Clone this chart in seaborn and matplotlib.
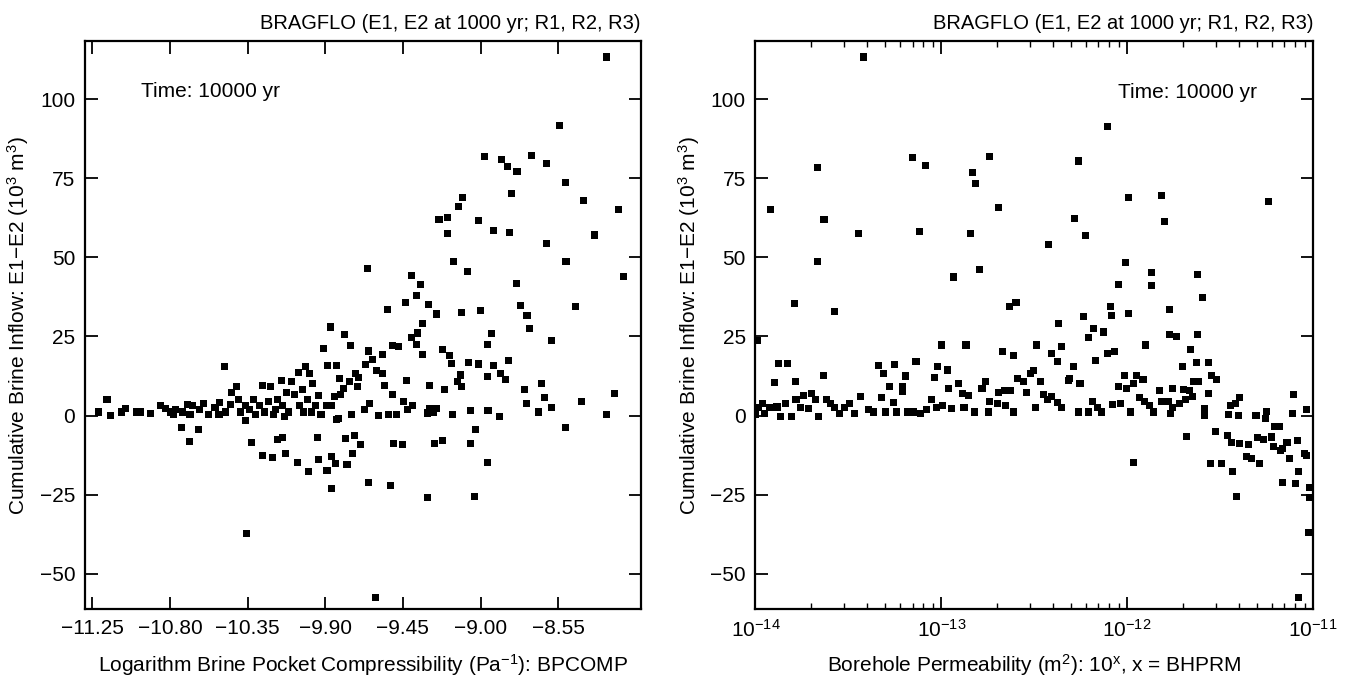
import matplotlib
matplotlib.use("Agg")
import matplotlib.pyplot as plt
import seaborn as sns
import numpy as np
import pandas as pd
from matplotlib.ticker import FixedLocator, LogLocator, NullFormatter

# ---------------- data ----------------
# Left panel: BPCOMP (log brine pocket compressibility) vs cumulative brine inflow
bpcomp = [
    -8.271, -8.543, -8.977, -8.879, -8.844, -8.789, -8.706, -8.618, -8.507, -8.819,
    -9.106, -9.128, -8.404, -8.203, -9.241, -9.194, -9.010, -9.194, -8.925, -8.834,
    -8.618, -8.342, -9.156, -8.505, -9.078, -8.173, -9.656, -9.402, -9.347, -8.794,
    -9.435, -9.372, -9.304, -9.541, -9.254, -9.111, -9.003, -8.769, -8.731, -8.450,
    -8.714, -9.337, -9.402, -9.367, -9.369, -8.937, -8.962, -8.590, -9.872, -9.787,
    -9.754, -9.913, -9.651, -9.566, -9.508, -9.478, -9.335, -9.221, -9.181, -9.171,
    -9.068, -9.010, -8.927, -8.839, -8.882, -8.857, -9.118, -9.133, -9.113, -8.962,
    -9.294, -9.211, -8.744, -8.648, -8.631, -8.734, -8.414, -8.226, -8.663, -8.590,
    -8.269, -8.889, -8.957, -9.058, -9.161, -9.254, -9.309, -8.507, -9.030, -9.058,
    -8.962, -9.033, -9.307, -9.221, -9.267, -9.455, -9.503, -9.523, -9.651, -9.611,
    -10.358, -9.694, -9.729, -9.782, -9.744, -9.774, -9.842, -9.862, -9.862, -9.890,
    -9.938, -9.945, -9.996, -10.063, -10.131, -10.149, -10.177, -10.207, -10.262, -10.327,
    -10.360, -10.735, -10.687, -10.634,
    -11.217, -11.165, -11.147, -11.082, -11.056, -10.994, -10.969, -10.911, -10.855, -10.828,
    -10.795, -10.767, -10.730, -10.699, -10.667, -10.629, -10.604, -10.579, -10.539, -10.513,
    -10.483, -10.478, -10.448, -10.441, -10.415, -10.403, -10.390, -10.365, -10.340, -10.315,
    -10.282, -10.265, -10.252, -10.227, -10.215, -10.189, -10.177, -10.156, -10.146, -10.126,
    -10.114, -10.096, -10.081, -10.056, -10.051, -10.033, -10.013, -10.001, -9.993, -9.975,
    -9.955, -9.938, -9.925, -9.895, -9.887, -9.837, -9.820, -9.812, -9.795, -9.762,
    -9.724, -9.712, -9.707, -9.666, -9.674, -9.644, -9.624, -9.604, -9.594, -9.569,
    -9.556, -9.536, -9.511, -9.486, -9.448, -9.431, -9.422, -9.397, -9.837, -9.824,
    -9.749, -9.865, -9.847, -10.028, -10.202, -10.302, -10.516, -10.684, -10.780, -9.272,
    -9.297, -9.980, -10.139,
]
inflow_left = [
    113.4, 91.6, 81.8, 80.9, 78.9, 77.2, 82.2, 79.7, 73.7, 70.1,
    69.1, 66.0, 68.0, 65.2, 62.0, 62.6, 61.6, 57.6, 58.4, 57.9,
    54.3, 57.1, 48.7, 48.7, 45.5, 43.9, 46.4, 44.4, 41.3, 41.8,
    35.8, 37.9, 35.1, 33.5, 32.1, 32.6, 33.1, 34.7, 31.7, 34.4,
    27.6, 29.1, 24.8, 26.1, 22.6, 25.8, 22.6, 23.7, 28.0, 25.5,
    22.1, 21.1, 20.4, 19.2, 22.1, 21.9, 19.2, 20.9, 18.9, 16.5,
    16.7, 16.3, 15.8, 17.4, 13.4, 11.4, 12.8, 10.8, 9.3, 12.3,
    9.5, 8.1, 8.2, 10.2, 5.6, 3.7, 4.5, 6.9, 1.1, 2.5,
    0.3, -0.4, 1.5, 1.6, 0.4, 2.2, 0.8, -3.7, -4.5, -8.8,
    -15.0, -25.7, -25.9, -7.8, -8.8, -9.3, -8.9, -22.2, -21.1, -57.5,
    -37.2, -9.2, -6.4, -7.4, -11.9, -15.6, -15.1, -23.2, -12.9, -17.4,
    -14.0, -6.9, -17.8, -15.0, -11.9, -6.9, -7.5, -13.2, -12.6, -8.5,
    -1.6, -3.7, -8.2, -4.5,
    1.1, 5.1, 0.0, 1.1, 2.2, 1.1, 1.1, 0.5, 3.2, 2.2,
    1.1, 1.8, 1.1, 3.4, 3.2, 1.8, 3.8, 0.4, 2.5, 4.1,
    15.5, 1.1, 3.6, 7.3, 9.3, 5.2, 1.1, 3.2, 1.8, 5.2,
    3.2, 9.6, 1.1, 4.5, 9.1, 1.8, 5.2, 11.0, 3.2, 7.3,
    1.1, 10.7, 6.6, 13.7, 3.2, 8.2, 15.5, 5.2, 13.2, 10.0,
    3.2, 6.3, 0.4, 3.2, 15.9, 15.9, 11.8, 6.6, 8.6, 10.7,
    13.2, 9.3, 12.1, 16.2, 1.8, 3.8, 17.8, 14.1, 0.0, 13.4,
    9.6, 0.4, 6.6, 0.4, 4.5, 11.2, 1.8, 3.2, -1.4, -1.0,
    0.4, 3.2, 5.9, 1.1, 0.4, 0.4, 0.4, 0.4, 0.4, 1.1,
    2.2, 1.1, -0.3,
]

# Right panel: BHPRM (log10 borehole permeability) vs cumulative brine inflow
bhprm = [
    -13.420, -13.666, -13.919, -13.631, -13.668, -13.791, -13.577, -13.447, -13.157, -13.083,
    -13.115, -12.830, -12.814, -12.742, -12.841, -12.793, -12.934, -12.690, -12.108, -12.263,
    -12.282, -12.226, -12.421, -11.992, -11.813, -11.797, -11.239, -12.010, -11.871, -11.871,
    -12.045, -11.620, -11.597, -11.771, -11.992, -12.091, -12.084, -12.235, -12.208, -12.180,
    -12.126, -12.170, -12.108, -12.068, -12.368, -12.354, -12.407, -12.375, -12.486, -12.635,
    -12.598, -12.670, -12.612, -12.867, -12.999, -12.291, -12.312, -12.254, -11.899, -11.774,
    -11.736, -11.657, -11.701, -11.623, -11.625, -11.562, -11.548, -11.518, -11.643, -11.616,
    -11.560, -11.667, -11.697, -11.755, -11.952, -11.915, -11.964, -12.012, -12.045, -12.006,
    -11.964, -11.680, -11.585, -11.585, -11.525, -11.553, -11.492, -11.460, -11.432, -11.411,
    -11.446, -11.418, -11.395, -11.400, -11.453, -11.441, -11.395, -11.349, -11.360, -11.332,
    -11.290, -11.297, -11.267, -11.307, -11.256, -11.249, -11.221, -11.209, -11.181, -11.214,
    -11.163, -11.140, -11.174, -11.163, -11.128, -11.093, -11.077, -11.084, -11.109, -11.105,
    -11.047, -11.035, -11.035, -11.019, -11.019, -11.023, -11.077,
    -13.988, -14.000, -13.984, -13.961, -13.949, -13.926, -13.898, -13.884, -13.875, -13.863,
    -13.837, -13.828, -13.805, -13.786, -13.782, -13.756, -13.740, -13.717, -13.700, -13.675,
    -13.659, -13.633, -13.619, -13.596, -13.573, -13.550, -13.519, -13.494, -13.466, -13.433,
    -13.392, -13.364, -13.338, -13.313, -13.322, -13.299, -13.280, -13.257, -13.252, -13.241,
    -13.211, -13.211, -13.194, -13.183, -13.136, -13.148, -13.113, -13.078, -13.055, -13.039,
    -13.020, -13.025, -12.992, -12.969, -12.962, -12.944, -12.909, -12.887, -12.878, -12.855,
    -12.823, -12.781, -12.760, -12.746, -12.742, -12.700, -12.690, -12.658, -12.653, -12.626,
    -12.614, -12.588, -12.560, -12.542, -12.519, -12.502, -12.491, -12.468, -12.451, -12.428,
    -12.407, -12.377, -12.351, -12.317, -12.263, -12.208, -12.189, -12.161, -12.138, -12.080,
    -12.034, -11.980, -11.934, -11.906, -11.878, -11.857, -11.824, -11.813, -11.778, -11.755,
    -11.720, -11.685, -11.650, -11.766,
]
inflow_right = [
    113.4, 78.5, 65.3, 62.1, 48.6, 35.3, 33.0, 57.7, 81.6, 79.2,
    58.2, 77.0, 73.4, 81.8, 57.7, 46.3, 43.8, 65.9, 91.4, 80.5,
    62.3, 56.8, 54.1, 68.9, 69.7, 61.4, 67.8, 48.5, 45.2, 41.1,
    41.5, 44.5, 37.4, 33.6, 32.3, 34.5, 31.6, 31.4, 24.8, 27.4,
    26.4, 17.5, 19.6, 20.3, 29.2, 21.8, 19.6, 17.1, 22.3, 34.4,
    35.6, 20.3, 19.0, 22.3, 22.3, 15.5, 11.6, 10.0, 22.3, 25.6,
    25.1, 21.0, 15.5, 25.6, 16.8, 16.8, 12.7, 11.4, 10.7, 10.7,
    7.0, 7.9, 8.2, 8.6, 12.7, 11.4, 10.0, 12.7, 9.3, 8.6,
    -14.9, -6.7, 2.3, 0.0, -5.1, -15.3, -15.3, -6.4, -17.8, -25.6,
    3.2, 3.8, 5.6, 0.0, 0.4, -8.5, -8.8, -9.2, -13.0, -13.6,
    -15.3, -7.1, -7.5, 0.0, -1.0, 1.4, -6.8, -3.4, -3.4, -9.9,
    -10.3, -8.5, -11.2, -21.1, -13.7, -21.5, -17.8, -7.8, 0.7, 6.6,
    -11.9, -12.6, 1.8, -22.9, -25.9, -37.0, -57.5,
    23.7, 0.4, 2.5, 3.8, 0.7, 2.5, 10.3, 2.7, 16.4, -0.3,
    3.8, 16.4, -0.3, 10.7, 5.2, 2.5, 6.2, 2.1, 7.0, 5.2,
    -0.3, 12.7, 5.2, 3.8, 2.5, 0.7, 2.5, 3.8, 0.7, 5.9,
    1.8, 1.1, 15.8, 13.4, 5.6, 1.1, 9.3, 4.2, 16.2, 1.1,
    9.3, 7.5, 12.5, 1.1, 17.1, 1.1, 0.7, 1.8, 5.2, 12.1,
    15.5, 2.5, 3.2, 14.4, 8.6, 2.1, 10.0, 7.0, 2.5, 6.2,
    1.1, 8.6, 10.7, 1.1, 4.5, 3.8, 7.3, 7.9, 3.2, 7.9,
    1.1, 11.6, 10.7, 7.3, 13.4, 14.1, 2.5, 10.7, 6.6, 5.2,
    5.9, 4.2, 2.5, 11.1, 1.1, 1.1, 4.5, 2.5, 1.1, 3.4,
    3.8, 1.1, 5.6, 4.5, 3.2, 1.1, 7.9, 4.5, 4.5, 2.5,
    3.8, 5.2, 5.9, 0.7,
]

left_xticks = [-11.25, -10.80, -10.35, -9.90, -9.45, -9.00, -8.55]
left_xticklabels = ["\u221211.25", "\u221210.80", "\u221210.35", "\u22129.90",
                    "\u22129.45", "\u22129.00", "\u22128.55"]
yticks = [-50, -25, 0, 25, 50, 75, 100]

title_text = "BRAGFLO (E1, E2 at 1000 yr; R1, R2, R3)"
time_text = "Time: 10000 yr"
ylabel_text = "Cumulative Brine Inflow: E1\u2212E2 (10$^3$ m$^3$)"
xlabel_left = "Logarithm Brine Pocket Compressibility (Pa$^{\u22121}$): BPCOMP"
xlabel_right = "Borehole Permeability (m$^2$): 10$^\\mathrm{x}$, x = BHPRM"

# ---------------- plotting ----------------
sns.set_style("ticks")
plt.rcParams["font.family"] = ["Liberation Sans", "DejaVu Sans"]
plt.rcParams["mathtext.fontset"] = "custom"
plt.rcParams["mathtext.rm"] = "Liberation Sans"
plt.rcParams["mathtext.it"] = "Liberation Sans:italic"
plt.rcParams["axes.unicode_minus"] = True
for key in ("text.color", "axes.labelcolor", "xtick.color", "ytick.color", "axes.edgecolor"):
    plt.rcParams[key] = "black"

fig = plt.figure(figsize=(13.57, 6.84), dpi=100)
axL = fig.add_axes([0.0626, 0.1092, 0.4094, 0.8306])
axR = fig.add_axes([0.5567, 0.1092, 0.4109, 0.8306])

dfL = pd.DataFrame({"x": bpcomp, "y": inflow_left})
dfR = pd.DataFrame({"x": np.power(10.0, bhprm), "y": inflow_right})

msize = 26
sns.scatterplot(data=dfL, x="x", y="y", ax=axL, marker="s", color="black",
                s=msize, edgecolor="none", linewidth=0)
sns.scatterplot(data=dfR, x="x", y="y", ax=axR, marker="s", color="black",
                s=msize, edgecolor="none", linewidth=0)

fs = 15
for ax in (axL, axR):
    ax.set_ylim(-61.3, 118.4)
    ax.yaxis.set_major_locator(FixedLocator(yticks))
    ax.set_yticklabels([str(t).replace("-", "\u2212") for t in yticks], fontsize=fs)
    ax.set_ylabel(ylabel_text, fontsize=fs, labelpad=6)
    ax.set_title(title_text, loc="right", fontsize=fs - 0.5, pad=9)
    for sp in ax.spines.values():
        sp.set_linewidth(1.6)
        sp.set_color("black")
    ax.tick_params(which="major", direction="in", length=9, width=1.3,
                   top=True, right=True, labelsize=fs, pad=7)

axL.set_xlim(-11.293, -8.073)
axL.xaxis.set_major_locator(FixedLocator(left_xticks))
axL.set_xticklabels(left_xticklabels, fontsize=fs)
axL.set_xlabel(xlabel_left, fontsize=fs, labelpad=10)
axL.text(0.10, 0.912, time_text, transform=axL.transAxes, fontsize=fs,
         ha="left", va="center")

axR.set_xscale("log")
axR.set_xlim(1e-14, 1e-11)
axR.xaxis.set_major_locator(LogLocator(base=10, numticks=10))
axR.xaxis.set_minor_locator(LogLocator(base=10, subs=np.arange(2, 10), numticks=10))
axR.xaxis.set_minor_formatter(NullFormatter())
axR.tick_params(which="minor", direction="in", length=4, width=1.0, top=True)
axR.set_xlabel(xlabel_right, fontsize=fs, labelpad=8)
axR.text(0.65, 0.91, time_text, transform=axR.transAxes, fontsize=fs,
         ha="left", va="center")

fig.savefig("out.png", dpi=100)
